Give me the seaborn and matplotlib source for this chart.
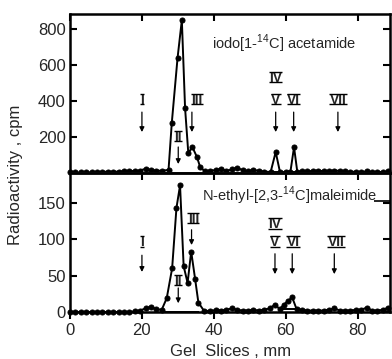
import matplotlib
matplotlib.use("Agg")
import matplotlib.pyplot as plt
from matplotlib.lines import Line2D
from matplotlib.transforms import IdentityTransform
import seaborn as sns
import pandas as pd

sns.set_theme(style="white")
plt.rcParams['font.family'] = ['Liberation Sans', 'DejaVu Sans']
plt.rcParams['mathtext.fontset'] = 'custom'
plt.rcParams['mathtext.rm'] = 'Liberation Sans'

# ---- data ----
top_x = [0, 1.5, 3, 4.5, 6, 7.5, 9, 10.5, 12, 13.5, 15, 16.5, 18, 19.5, 21, 22.5, 24, 25.5,
         27.4, 28.3, 29.9, 31.1, 32.0, 32.9, 34.0, 35.3, 36.2,
         37.5, 39, 40.5, 42, 43.5, 45, 46.5, 48, 49.5, 51, 52.5, 54, 55.8, 57.2, 58.4,
         60, 61.3, 62.3, 63.2, 64.5, 66, 67.5, 69, 70.5, 72, 73.5, 75, 76.5, 78, 79.5,
         81, 82.5, 84, 85.5, 87, 88.5]
top_y = [3, 3, 3, 4, 4, 5, 6, 8, 7, 8, 10, 12, 11, 14, 24, 16, 14, 12,
         18, 278, 639, 851, 361, 110, 146, 89, 33,
         10, 14, 16, 24, 12, 20, 30, 15, 10, 18, 12, 8, 6, 117, 5,
         6, 8, 144, 8, 10, 10, 12, 14, 10, 12, 14, 12, 10, 6, 8,
         5, 10, 4, 8, 4, 10]

bot_x = [0, 1.5, 3, 4.5, 6, 7.5, 9, 10.5, 12, 13.5, 15, 16.5, 18, 19.5, 21, 22.5, 24, 25.5,
         26.9, 28.4, 29.6, 30.6, 31.6, 32.7, 33.7, 34.8, 35.7,
         37.2, 39, 40.5, 42, 43.5, 45, 46.5, 48, 49.5, 51, 52.5, 54, 55.5, 57, 58.3,
         59.5, 60.5, 61.8, 63, 64.5, 66, 67.5, 69, 70.5, 72, 73.5, 75, 76.5, 78, 79.5,
         81, 82.5, 84, 85.5, 87, 88.5]
bot_y = [0, 0, 0, 0, 0, 0, 0, 0, 0, 0, 0, 0, 1, 2, 5, 7, 4, 3,
         19, 60, 143, 174, 63, 40, 83, 45, 13,
         2, 1, 3, 2, 3, 5, 3, 2, 2, 3, 2, 3, 5, 10, 4,
         10, 15, 20, 4, 3, 2, 2, 2, 2, 3, 5, 2, 2, 2, 3,
         3, 6, 2, 2, 3, 6]

band_labels = ["I", "II", "III", "IV", "V", "VI", "VII"]
top_band_x = [20, 30.1, 35.3, 57.2, 57.2, 62.2, 74.5]
top_band_y = [411, 205, 411, 534, 411, 411, 411]
top_arrows_x = [20, 30.1, 33.9, 57.2, 62.2, 74.5]
top_arrows_y0 = [339, 145, 339, 339, 339, 339]
top_arrows_y1 = [228, 50, 228, 228, 228, 228]

bot_band_x = [20, 30.1, 34.3, 57.0, 57.0, 62.0, 74.0]
bot_band_y = [97, 44, 129, 122, 97, 97, 97]
bot_arrows_x = [20, 30.1, 33.8, 57.0, 61.8, 73.5]
bot_arrows_y0 = [78, 33, 113, 80, 80, 80]
bot_arrows_y1 = [55, 12, 92, 52, 52, 52]

top_title = r"iodo[1-$^{14}$C] acetamide"
bot_title = r"N-ethyl-[2,3-$^{14}$C]maleimide"

# ---- figure ----
fig = plt.figure(figsize=(3.92, 3.59), dpi=100)
ax1 = fig.add_axes([0.1786, 0.518, 0.8164, 0.443])
ax2 = fig.add_axes([0.1786, 0.131, 0.8164, 0.387])

df1 = pd.DataFrame({"x": top_x, "y": top_y})
df2 = pd.DataFrame({"x": bot_x, "y": bot_y})
for ax, df in ((ax1, df1), (ax2, df2)):
    sns.lineplot(data=df, x="x", y="y", ax=ax, color="black", linewidth=1.4,
                 marker="o", markersize=3.6, markeredgecolor="black",
                 markerfacecolor="black", clip_on=False, zorder=3)

# baseline segments under peaks
ax1.hlines(0, 26.4, 35.5, color="black", lw=1.4, clip_on=False)
ax1.hlines(6, 55.9, 58.3, color="black", lw=1.4)
ax1.hlines(8, 61.3, 63.1, color="black", lw=1.4)
ax2.hlines(0, 26.4, 36.0, color="black", lw=1.4, clip_on=False)
ax2.hlines(4, 58.3, 63.0, color="black", lw=1.4)
ax2.hlines(152, 84.6, 89, color="black", lw=1.2)

ax1.set_xlim(0, 89)
ax2.set_xlim(0, 89)
ax1.set_ylim(0, 885)
ax2.set_ylim(0, 191)

for ax in (ax1, ax2):
    for sp in ax.spines.values():
        sp.set_linewidth(1.8)
        sp.set_color("black")
    ax.set_xlabel("")
    ax.set_ylabel("")

ax1.set_xticks([0, 20, 40, 60, 80])
ax1.set_yticks([200, 400, 600, 800])
ax1.tick_params(axis="x", direction="in", top=True, bottom=False, labelbottom=False,
                length=5, width=1.5, color="black")
ax1.tick_params(axis="y", direction="in", left=True, right=True, length=5, width=1.5,
                labelsize=12, pad=3, color="black")

ax2.set_xticks([0, 20, 40, 60, 80])
ax2.set_yticks([0, 50, 100, 150])
ax2.tick_params(axis="x", direction="out", bottom=True, top=False, length=5, width=1.5,
                labelsize=12, pad=3, color="black")
ax2.tick_params(axis="y", direction="in", left=True, right=True, length=5, width=1.5,
                labelsize=12, pad=3, color="black")
sec = ax2.secondary_xaxis("top")
sec.set_xticks([20, 40, 60, 80])
sec.tick_params(direction="in", length=5, width=1.5, labeltop=False, color="black")
sec.spines["top"].set_linewidth(1.8)

renderer = fig.canvas.get_renderer()
ident = IdentityTransform()
FS = 10
CAP = 0.716 * FS * fig.dpi / 72.0

def roman(ax, x, yc, lab):
    X, Y = ax.transData.transform((x, yc))
    yb = Y - CAP / 2.0
    t = ax.text(X, yb, lab, transform=ident, ha="center", va="baseline",
                fontsize=FS, weight="bold", family="Liberation Sans")
    bb = t.get_window_extent(renderer)
    for yy in (yb - 0.3, yb + CAP + 0.3):
        fig.add_artist(Line2D([bb.x0 - 0.3, bb.x1 + 0.3], [yy, yy], transform=ident,
                              color="black", lw=1.0, solid_capstyle="butt"))

def annotate(ax, bx, by, ax_x, ay0, ay1):
    for lab, x, y in zip(band_labels, bx, by):
        roman(ax, x, y, lab)
    for x, y0, y1 in zip(ax_x, ay0, ay1):
        ax.annotate("", xy=(x, y1), xytext=(x, y0),
                    arrowprops=dict(arrowstyle="-|>", color="black", lw=0.9,
                                    mutation_scale=7, shrinkA=0, shrinkB=0))

annotate(ax1, top_band_x, top_band_y, top_arrows_x, top_arrows_y0, top_arrows_y1)
annotate(ax2, bot_band_x, bot_band_y, bot_arrows_x, bot_arrows_y0, bot_arrows_y1)

ax1.text(39.5, 717, top_title, ha="left", va="center", fontsize=10.5)
ax2.text(36.7, 160, bot_title, ha="left", va="center", fontsize=10.5)

fig.text(0.04, 0.513, "Radioactivity , cpm", rotation=90, ha="center", va="center", fontsize=12)
fig.text(0.587, 0.022, "Gel  Slices , mm", ha="center", va="center", fontsize=12)

fig.savefig("out.png", dpi=100)
